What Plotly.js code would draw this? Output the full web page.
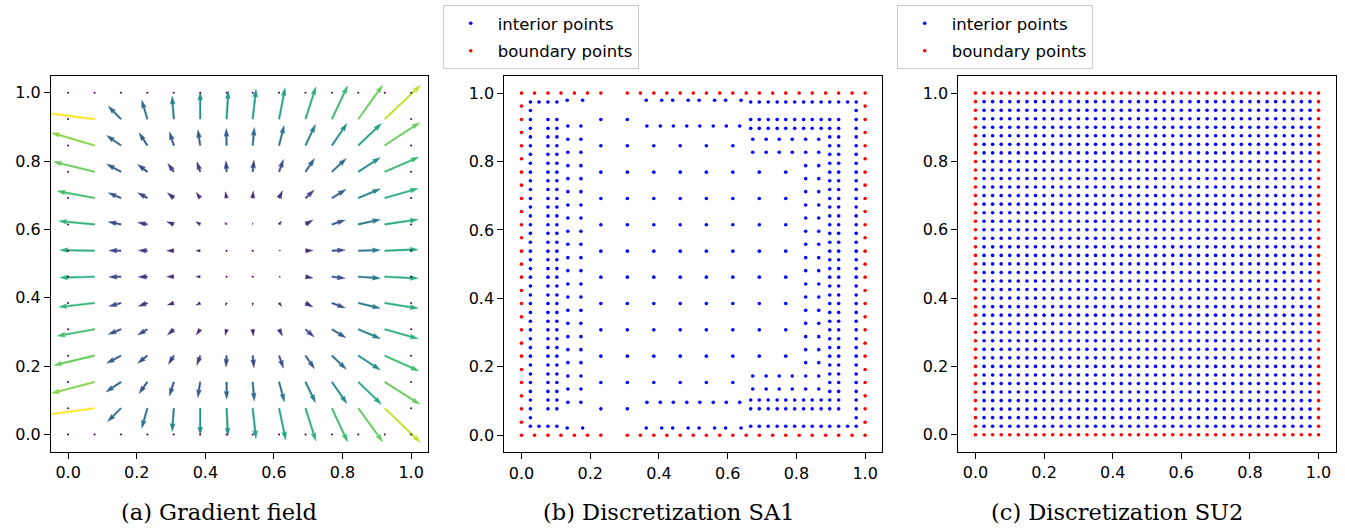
<!DOCTYPE html>
<html>
<head>
<meta charset="utf-8">
<script src="https://cdn.plot.ly/plotly-3.0.1.min.js"></script>
<style>
  html, body { margin: 0; padding: 0; background: #ffffff; }
  #chart { width: 1345px; height: 529px; }
</style>
</head>
<body>
<div id="chart"></div>
<script>
// ---------------- (a) gradient field ----------------
// 14 x 14 sampling nodes on [0, 1] in each direction
const gridNodes = [0, 0.077, 0.154, 0.231, 0.308, 0.385, 0.462, 0.538, 0.615, 0.692, 0.769, 0.846, 0.923, 1];

// Gradient components, rows from y = 1 (top) down to y = 0; boundary nodes are zero.
const gradU = [
  [0, 0, 0, 0, 0, 0, 0, 0, 0, 0, 0, 0, 0, 0],
  [0, -1.62, -0.38, -0.17, -0.05, 0.00, 0.05, 0.10, 0.18, 0.31, 0.47, 0.73, 1.07, 0],
  [0, -1.29, -0.43, -0.25, -0.13, -0.07, -0.01, 0.05, 0.15, 0.30, 0.45, 0.69, 1.05, 0],
  [0, -1.22, -0.43, -0.29, -0.18, -0.10, -0.02, 0.04, 0.13, 0.27, 0.43, 0.66, 1.02, 0],
  [0, -1.12, -0.38, -0.29, -0.19, -0.12, -0.04, 0.02, 0.10, 0.26, 0.42, 0.66, 1.00, 0],
  [0, -1.07, -0.38, -0.29, -0.21, -0.13, -0.06, 0.00, 0.07, 0.22, 0.40, 0.66, 1.00, 0],
  [0, -1.04, -0.36, -0.27, -0.21, -0.13, -0.03, 0.01, 0.05, 0.22, 0.40, 0.66, 1.00, 0],
  [0, -1.04, -0.36, -0.27, -0.21, -0.13, -0.03, 0.00, 0.05, 0.22, 0.40, 0.66, 1.00, 0],
  [0, -1.07, -0.36, -0.27, -0.19, -0.13, -0.04, 0.00, 0.08, 0.22, 0.40, 0.66, 1.00, 0],
  [0, -1.12, -0.38, -0.29, -0.19, -0.12, -0.04, 0.02, 0.10, 0.26, 0.42, 0.66, 1.00, 0],
  [0, -1.22, -0.43, -0.29, -0.16, -0.10, -0.02, 0.04, 0.13, 0.27, 0.43, 0.66, 1.02, 0],
  [0, -1.29, -0.45, -0.25, -0.13, -0.07, 0.00, 0.05, 0.16, 0.30, 0.45, 0.69, 1.05, 0],
  [0, -1.62, -0.40, -0.17, -0.05, 0.00, 0.04, 0.10, 0.20, 0.31, 0.47, 0.73, 1.07, 0],
  [0, 0, 0, 0, 0, 0, 0, 0, 0, 0, 0, 0, 0, 0]
];
const gradV = [
  [0, 0, 0, 0, 0, 0, 0, 0, 0, 0, 0, 0, 0, 0],
  [0, 0.21, 0.39, 0.57, 0.69, 0.81, 0.85, 0.90, 0.94, 0.97, 1.00, 1.02, 1.02, 0],
  [0, 0.38, 0.30, 0.38, 0.41, 0.47, 0.51, 0.54, 0.60, 0.63, 0.66, 0.66, 0.69, 0],
  [0, 0.30, 0.23, 0.22, 0.25, 0.30, 0.33, 0.35, 0.37, 0.40, 0.40, 0.43, 0.44, 0],
  [0, 0.21, 0.16, 0.16, 0.16, 0.17, 0.19, 0.21, 0.22, 0.24, 0.26, 0.28, 0.29, 0],
  [0, 0.10, 0.08, 0.06, 0.08, 0.08, 0.06, 0.05, 0.10, 0.13, 0.13, 0.15, 0.15, 0],
  [0, 0.02, 0.01, 0.01, 0.00, 0.00, 0.00, 0.00, 0.00, 0.01, 0.02, 0.02, 0.04, 0],
  [0, -0.03, -0.01, -0.01, 0.00, 0.00, 0.00, 0.00, -0.01, -0.04, -0.05, -0.05, -0.05, 0],
  [0, -0.12, -0.10, -0.10, -0.06, -0.07, -0.08, -0.08, -0.10, -0.12, -0.15, -0.16, -0.16, 0],
  [0, -0.20, -0.15, -0.17, -0.17, -0.17, -0.18, -0.20, -0.20, -0.23, -0.25, -0.28, -0.28, 0],
  [0, -0.29, -0.23, -0.23, -0.26, -0.29, -0.34, -0.36, -0.38, -0.39, -0.41, -0.43, -0.46, 0],
  [0, -0.34, -0.30, -0.35, -0.42, -0.47, -0.52, -0.57, -0.60, -0.62, -0.65, -0.67, -0.67, 0],
  [0, -0.22, -0.40, -0.60, -0.70, -0.80, -0.83, -0.91, -0.95, -0.98, -1.01, -1.01, -1.03, 0],
  [0, 0, 0, 0, 0, 0, 0, 0, 0, 0, 0, 0, 0, 0]
];

// ---------------- (b) discretization SA1 ----------------
// boundary points
const sa1SideLevels = [0, 0.038, 0.077, 0.115, 0.154, 0.192, 0.231, 0.269, 0.308, 0.346, 0.385, 0.423, 0.462,
  0.5, 0.538, 0.577, 0.615, 0.654, 0.692, 0.731, 0.769, 0.808, 0.846, 0.885, 0.923, 0.962, 1];
const sa1CapLevels = [0.038, 0.077, 0.115, 0.154, 0.192, 0.231, 0.308, 0.346, 0.385, 0.423, 0.462,
  0.5, 0.538, 0.577, 0.615, 0.654, 0.692, 0.731, 0.769, 0.808, 0.846, 0.885, 0.923, 0.962];

// interior points, grouped in rectangular blocks (x list times y list)
const sa1Fine = [0.026, 0.051, 0.077, 0.103, 0.128, 0.154, 0.179, 0.205, 0.231, 0.256, 0.282, 0.308, 0.333,
  0.359, 0.385, 0.410, 0.436, 0.462, 0.487, 0.513, 0.538, 0.564, 0.590, 0.615, 0.641, 0.667, 0.692, 0.718,
  0.744, 0.769, 0.795, 0.821, 0.846, 0.872, 0.897, 0.923, 0.949, 0.974];
const sa1Half = [0.096, 0.135, 0.173, 0.212, 0.250, 0.288, 0.327, 0.365, 0.404, 0.442, 0.481, 0.519, 0.558,
  0.596, 0.635, 0.673, 0.712, 0.750, 0.788, 0.827, 0.865, 0.904];

const edgeColX = [0.026, 0.974];
const edgeColY = sa1Fine;
const bandX = [0.051, 0.077, 0.103, 0.667, 0.692, 0.718, 0.744, 0.769, 0.795, 0.821, 0.846, 0.872, 0.897, 0.923, 0.949];
const bandY = [0.026, 0.974];
const pairColX = [0.077, 0.103, 0.897, 0.923];
const pairColY = sa1Fine.slice(2, 36);
const cornerFineX = [0.667, 0.692, 0.718, 0.744, 0.769, 0.795, 0.821, 0.846, 0.872];
const cornerFineY = [0.077, 0.103, 0.897, 0.923];
const halfColLeftX = [0.135, 0.173];
const halfColLeftY = sa1Half;
const halfColRightX = [0.827, 0.865];
const halfColRightY = sa1Half.slice(1, 21);
const cornerHalfX = [0.673, 0.712, 0.750, 0.788];
const cornerHalfY = [0.135, 0.173, 0.827, 0.865];
const midHalfX = [0.365, 0.404, 0.442, 0.481, 0.519, 0.558, 0.596, 0.635];
const midHalfY = [0.096, 0.904];
const bandPairX = [0.133, 0.178, 0.363, 0.408, 0.440, 0.485, 0.517, 0.562, 0.594, 0.639];
const bandPairY = [0.021, 0.979];
// coarse centre lattice: row heights and how many columns each row uses
const coarseX = [0.231, 0.308, 0.385, 0.462, 0.538, 0.615, 0.692, 0.769];
const coarseY = [0.923, 0.846, 0.769, 0.692, 0.615, 0.538, 0.462, 0.385, 0.308, 0.231, 0.154, 0.077];
const coarseRowCount = [2, 6, 8, 8, 8, 8, 8, 8, 8, 8, 6, 2];

// ---------------- (c) discretization SU2 ----------------
const su2Nodes = [0, 0.025, 0.05, 0.075, 0.1, 0.125, 0.15, 0.175, 0.2, 0.225, 0.25, 0.275, 0.3, 0.325, 0.35,
  0.375, 0.4, 0.425, 0.45, 0.475, 0.5, 0.525, 0.55, 0.575, 0.6, 0.625, 0.65, 0.675, 0.7, 0.725, 0.75, 0.775,
  0.8, 0.825, 0.85, 0.875, 0.9, 0.925, 0.95, 0.975, 1];

// ---------------- figure geometry ----------------
const FIG_W = 1345, FIG_H = 529;
const AX_RANGE = [-0.05, 1.05];
const domA = { x: [0.03792, 0.31844], y: [0.14612, 0.8569] };
const domB = { x: [0.37494, 0.65599], y: [0.14499, 0.85633] };
const domC = { x: [0.7125, 0.99309], y: [0.1459, 0.8563] };

const viridis = ['#440154', '#482475', '#414487', '#355f8d', '#2a788e', '#21918c',
                 '#22a884', '#44bf70', '#7ad151', '#bddf26', '#fde725'];
function hexToRgb(h) { return [1, 3, 5].map(i => parseInt(h.slice(i, i + 2), 16)); }
function viridisAt(t) {
  t = Math.max(0, Math.min(1, t));
  const f = t * (viridis.length - 1);
  const i = Math.min(Math.floor(f), viridis.length - 2);
  const a = hexToRgb(viridis[i]), b = hexToRgb(viridis[i + 1]);
  const k = f - i;
  const c = a.map((v, j) => Math.round(v + (b[j] - v) * k));
  return 'rgb(' + c.join(',') + ')';
}

const traces = [];

// ----- quiver arrows as filled polygons (tail at the node) -----
const pxX = (domA.x[1] - domA.x[0]) * FIG_W / (AX_RANGE[1] - AX_RANGE[0]);
const pxY = (domA.y[1] - domA.y[0]) * FIG_H / (AX_RANGE[1] - AX_RANGE[0]);
const ARROW_SCALE = 0.0974;          // axis units per unit of gradient
const SHAFT = 1.6;                   // shaft width, px
const HEAD_W = 3, HEAD_L = 5, HEAD_AX = 4.5;

let maxMag = 0;
gradU.forEach((row, r) => row.forEach((u, c) => {
  maxMag = Math.max(maxMag, Math.hypot(u, gradV[r][c]));
}));

const dotX = [], dotY = [], dotC = [];
const n = gridNodes.length;
for (let r = 0; r < n; r++) {
  for (let c = 0; c < n; c++) {
    const u = gradU[r][c], v = gradV[r][c];
    const x0 = gridNodes[c], y0 = gridNodes[n - 1 - r];
    const color = viridisAt(Math.hypot(u, v) / maxMag);
    const dx = u * ARROW_SCALE * pxX, dy = v * ARROW_SCALE * pxY;
    const L = Math.hypot(dx, dy);
    if (L < SHAFT) { dotX.push(x0); dotY.push(y0); dotC.push(color); continue; }
    const w = SHAFT;
    let pts;
    if (L >= HEAD_L * w) {
      pts = [[0, -w / 2], [L - HEAD_AX * w, -w / 2], [L - HEAD_L * w, -HEAD_W * w / 2], [L, 0],
             [L - HEAD_L * w, HEAD_W * w / 2], [L - HEAD_AX * w, w / 2], [0, w / 2]];
    } else {
      const s = L / (HEAD_L * w);
      pts = [[0, -w / 2 * s], [(HEAD_L - HEAD_AX) * w * s, -w / 2 * s], [0, -HEAD_W * w / 2 * s], [L, 0],
             [0, HEAD_W * w / 2 * s], [(HEAD_L - HEAD_AX) * w * s, w / 2 * s], [0, w / 2 * s]];
    }
    const cs = dx / L, sn = dy / L;
    const xs = [], ys = [];
    pts.forEach(([a, p]) => {
      xs.push(x0 + (a * cs - p * sn) / pxX);
      ys.push(y0 + (a * sn + p * cs) / pxY);
    });
    xs.push(xs[0]); ys.push(ys[0]);
    traces.push({
      type: 'scatter', mode: 'lines', x: xs, y: ys, fill: 'toself',
      fillcolor: color, line: { color: color, width: 0.4 },
      xaxis: 'x', yaxis: 'y', hoverinfo: 'skip', showlegend: false
    });
  }
}
traces.push({
  type: 'scatter', mode: 'markers', x: dotX, y: dotY,
  marker: { size: 2, color: dotC, line: { width: 0 } },
  xaxis: 'x', yaxis: 'y', hoverinfo: 'skip', showlegend: false
});

// ----- SA1 points -----
function tensor(xs, ys, outX, outY) {
  ys.forEach(y => xs.forEach(x => { outX.push(x); outY.push(y); }));
}
const sa1InX = [], sa1InY = [];
tensor(edgeColX, edgeColY, sa1InX, sa1InY);
tensor(bandX, bandY, sa1InX, sa1InY);
tensor(pairColX, pairColY, sa1InX, sa1InY);
tensor(cornerFineX, cornerFineY, sa1InX, sa1InY);
tensor(halfColLeftX, halfColLeftY, sa1InX, sa1InY);
tensor(halfColRightX, halfColRightY, sa1InX, sa1InY);
tensor(cornerHalfX, cornerHalfY, sa1InX, sa1InY);
tensor(midHalfX, midHalfY, sa1InX, sa1InY);
tensor(bandPairX, bandPairY, sa1InX, sa1InY);
coarseY.forEach((y, i) => tensor(coarseX.slice(0, coarseRowCount[i]), [y], sa1InX, sa1InY));

const sa1BdX = [], sa1BdY = [];
tensor([0, 1], sa1SideLevels, sa1BdX, sa1BdY);
tensor(sa1CapLevels, [0, 1], sa1BdX, sa1BdY);

// ----- SU2 points -----
const su2InX = [], su2InY = [], su2BdX = [], su2BdY = [];
const last = su2Nodes.length - 1;
su2Nodes.forEach((y, j) => su2Nodes.forEach((x, i) => {
  if (i === 0 || j === 0 || i === last || j === last) { su2BdX.push(x); su2BdY.push(y); }
  else { su2InX.push(x); su2InY.push(y); }
}));

const PT = 3.6;
function pointTrace(x, y, color, name, xa, ya, legend) {
  return {
    type: 'scatter', mode: 'markers', x: x, y: y, name: name,
    marker: { size: PT, color: color, line: { width: 0 } },
    xaxis: xa, yaxis: ya, legend: legend, legendgroup: legend + name, hoverinfo: 'skip'
  };
}
traces.push(pointTrace(sa1InX, sa1InY, '#0000ff', 'interior points', 'x2', 'y2', 'legend'));
traces.push(pointTrace(sa1BdX, sa1BdY, '#ff0000', 'boundary points', 'x2', 'y2', 'legend'));
traces.push(pointTrace(su2InX, su2InY, '#0000ff', 'interior points', 'x3', 'y3', 'legend2'));
traces.push(pointTrace(su2BdX, su2BdY, '#ff0000', 'boundary points', 'x3', 'y3', 'legend2'));

// ---------------- layout ----------------
const tickFont = { family: 'DejaVu Sans, sans-serif', size: 16, color: '#000000' };
function axis(domain, anchor) {
  return {
    domain: domain, anchor: anchor, range: AX_RANGE, autorange: false,
    showline: true, mirror: true, linecolor: '#000000', linewidth: 1,
    ticks: 'outside', ticklen: 6, tickwidth: 1, tickcolor: '#000000',
    tickvals: [0, 0.2, 0.4, 0.6, 0.8, 1.0], tickformat: '.1f',
    showgrid: false, zeroline: false, tickfont: tickFont, fixedrange: true
  };
}
const legendStyle = {
  xanchor: 'left', yanchor: 'top', bgcolor: '#ffffff',
  bordercolor: '#cccccc', borderwidth: 1,
  font: { family: 'DejaVu Sans, sans-serif', size: 16.5, color: '#000000' },
  itemwidth: 44, traceorder: 'grouped', tracegroupgap: 3
};
const capFont = { family: 'DejaVu Serif, serif', size: 22.5, color: '#000000' };
function caption(text, xpx) {
  return { text: text, xref: 'paper', yref: 'paper', x: xpx / FIG_W, y: 1 - 512 / FIG_H,
           xanchor: 'center', yanchor: 'middle', showarrow: false, font: capFont };
}

const layout = {
  width: FIG_W, height: FIG_H,
  margin: { l: 0, r: 0, t: 0, b: 0 },
  paper_bgcolor: '#ffffff', plot_bgcolor: '#ffffff',
  xaxis: axis(domA.x, 'y'), yaxis: axis(domA.y, 'x'),
  xaxis2: axis(domB.x, 'y2'), yaxis2: axis(domB.y, 'x2'),
  xaxis3: axis(domC.x, 'y3'), yaxis3: axis(domC.y, 'x3'),
  legend: Object.assign({ x: 442.7 / FIG_W, y: 1 - 5 / FIG_H }, legendStyle),
  legend2: Object.assign({ x: 896.7 / FIG_W, y: 1 - 5 / FIG_H }, legendStyle),
  annotations: [
    caption('(a) Gradient field', 219),
    caption('(b) Discretization SA1', 668),
    caption('(c) Discretization SU2', 1116.5)
  ]
};

Plotly.newPlot('chart', traces, layout, { displayModeBar: false, staticPlot: true });
</script>
</body>
</html>
